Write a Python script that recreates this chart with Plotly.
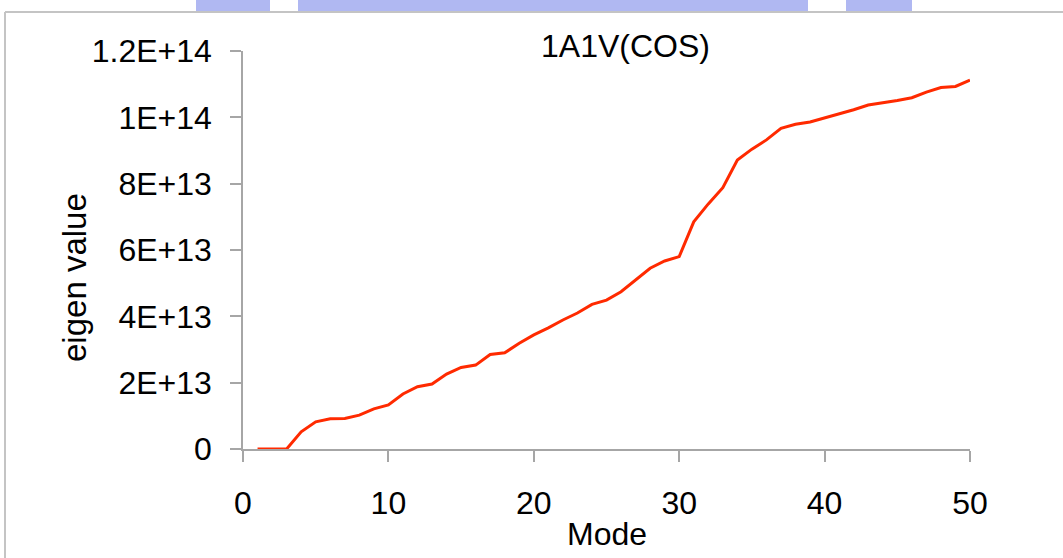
import plotly.graph_objects as go

# Eigenvalue spectrum for 1A1V (COS), modes 1..50
modes = list(range(1, 51))
eigen_e12 = [
    0, 0, 0, 5.2, 8.2, 9.1, 9.2, 10.2, 12.1, 13.3,
    16.6, 18.8, 19.6, 22.6, 24.6, 25.3, 28.5, 29.0, 31.9, 34.4,
    36.5, 38.9, 41.0, 43.6, 44.9, 47.4, 50.9, 54.5, 56.7, 58.0,
    68.5, 73.9, 78.8, 87.1, 90.4, 93.2, 96.7, 97.9, 98.6, 99.8,
    101.2, 102.3, 103.7, 104.3, 105.1, 105.9, 107.6, 109.0, 109.3, 111.2,
]
eigen_values = [v * 1e12 for v in eigen_e12]

y_tick_vals = [0, 2e13, 4e13, 6e13, 8e13, 1e14, 1.2e14]
y_tick_text = ["0", "2E+13", "4E+13", "6E+13", "8E+13", "1E+14", "1.2E+14"]
x_tick_vals = [0, 10, 20, 30, 40, 50]

chart_title = "1A1V(COS)"
x_title = "Mode"
y_title = "eigen value"

W, H = 1063, 558
L, R, T, B = 243, 970, 51, 449  # plot area in pixels


def px(x):
    return (x - L) / (R - L)


def py(y):
    return (B - y) / (B - T)


FONT = "Liberation Sans, Arial, sans-serif"
AXIS_GREY = "#a6a6a6"

fig = go.Figure()
fig.add_trace(go.Scatter(
    x=modes, y=eigen_values, mode="lines",
    line=dict(color="#ff2a00", width=3),
    hoverinfo="skip", showlegend=False,
))

fig.update_layout(
    width=W, height=H,
    margin=dict(l=L, r=W - R, t=T, b=H - B, pad=0),
    paper_bgcolor="white", plot_bgcolor="white",
    font=dict(family=FONT, size=32, color="black"),
    showlegend=False,
    xaxis=dict(
        range=[0, 50], tickvals=x_tick_vals,
        showgrid=False, zeroline=False,
        showline=True, linecolor=AXIS_GREY, linewidth=1.5,
        ticks="outside", ticklen=11, tickcolor=AXIS_GREY, tickwidth=1.5,
        ticklabelstandoff=14,
        tickfont=dict(family=FONT, size=32, color="black"),
    ),
    yaxis=dict(
        range=[0, 1.2e14], tickvals=y_tick_vals, ticktext=y_tick_text,
        showgrid=False, zeroline=False,
        showline=True, linecolor=AXIS_GREY, linewidth=1.5,
        ticks="outside", ticklen=11, tickcolor=AXIS_GREY, tickwidth=1.5,
        ticklabelstandoff=12,
        tickfont=dict(family=FONT, size=32, color="black"),
    ),
    annotations=[
        dict(text=chart_title, xref="paper", yref="paper",
             x=px(625.5), y=py(46), xanchor="center", yanchor="middle",
             showarrow=False, font=dict(family=FONT, size=32)),
        dict(text=x_title, xref="paper", yref="paper",
             x=px(607), y=py(534), xanchor="center", yanchor="middle",
             showarrow=False, font=dict(family=FONT, size=32)),
        dict(text=y_title, xref="paper", yref="paper", textangle=-90,
             x=px(74), y=py(278), xanchor="center", yanchor="middle",
             showarrow=False, font=dict(family=FONT, size=33)),
    ],
    shapes=[
        # chart area frame (top and left edges)
        dict(type="line", xref="paper", yref="paper",
             x0=px(5), y0=py(12), x1=px(1070), y1=py(12),
             line=dict(color="#c4c4c4", width=2)),
        dict(type="line", xref="paper", yref="paper",
             x0=px(5), y0=py(12), x1=px(5), y1=py(570),
             line=dict(color="#c4c4c4", width=2)),
        # light blue header strip above the frame
        dict(type="rect", xref="paper", yref="paper",
             x0=px(196), y0=py(11), x1=px(270), y1=py(-2),
             fillcolor="rgba(150,160,238,0.75)", line=dict(width=0)),
        dict(type="rect", xref="paper", yref="paper",
             x0=px(298), y0=py(11), x1=px(808), y1=py(-2),
             fillcolor="rgba(150,160,238,0.75)", line=dict(width=0)),
        dict(type="rect", xref="paper", yref="paper",
             x0=px(846), y0=py(11), x1=px(912), y1=py(-2),
             fillcolor="rgba(150,160,238,0.75)", line=dict(width=0)),
    ],
)

fig.write_html("out.html")
